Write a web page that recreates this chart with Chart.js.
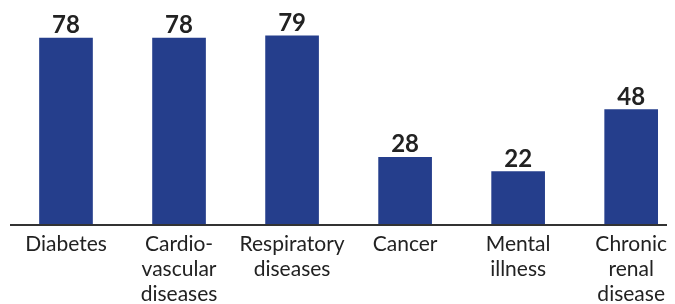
<!DOCTYPE html>
<html>
<head>
<meta charset="utf-8">
<script src="https://cdn.jsdelivr.net/npm/chart.js@4"></script>
<style>
  html, body { margin: 0; padding: 0; background: #fff; }
  #wrap { width: 675px; height: 304px; }
</style>
</head>
<body>
<div id="wrap"><canvas id="myChart"></canvas></div>
<script>
// categories (multi-line labels)
let labels1 = [
  ['Diabetes'],
  ['Cardio-', 'vascular', 'diseases'],
  ['Respiratory', 'diseases'],
  ['Cancer'],
  ['Mental', 'illness'],
  ['Chronic', 'renal', 'disease']
];
// values shown on the bars
let data1 = [78, 78, 79, 28, 22, 48];
// bar colour
let barColor = '#253e8c';

// draws the number over every bar
let valueLabels = {
  id: 'valueLabels',
  afterDatasetsDraw(chart) {
    let ctx = chart.ctx;
    ctx.save();
    ctx.font = 'bold 24px Lato';
    ctx.fillStyle = '#222';
    ctx.textAlign = 'center';
    ctx.textBaseline = 'alphabetic';
    chart.getDatasetMeta(0).data.forEach((bar, i) => {
      ctx.fillText(String(data1[i]), bar.x, bar.y - 5);
    });
    ctx.restore();
  }
};

// the dark base line under the bars
let baseLine = {
  id: 'baseLine',
  afterDatasetsDraw(chart) {
    let ctx = chart.ctx;
    let y = chart.chartArea.bottom + 1;
    ctx.save();
    ctx.strokeStyle = '#333';
    ctx.lineWidth = 2;
    ctx.beginPath();
    ctx.moveTo(10, y);
    ctx.lineTo(667, y);
    ctx.stroke();
    ctx.restore();
  }
};

let myChart1 = document.getElementById('myChart').getContext('2d');

let chart1 = new Chart(myChart1, {
  type: 'bar',
  data: {
    labels: labels1,
    datasets: [{
      data: data1,
      backgroundColor: barColor,
      barThickness: 53,
      clip: false
    }]
  },
  options: {
    responsive: true,
    maintainAspectRatio: false,
    animation: false,
    layout: { padding: { left: 66, right: 34, top: 0, bottom: 0 } },
    plugins: {
      legend: { display: false },
      tooltip: { enabled: false }
    },
    scales: {
      x: {
        offset: false,
        grid: { display: false, drawTicks: false },
        border: { display: false },
        ticks: {
          autoSkip: false,
          maxRotation: 0,
          padding: 8,
          color: '#222',
          font: { family: 'Lato', size: 21, lineHeight: 1.18 }
        },
        afterFit(scale) { scale.height = 80; }
      },
      y: {
        display: false,
        min: 0,
        max: 94
      }
    }
  },
  plugins: [valueLabels, baseLine]
});
</script>
</body>
</html>
